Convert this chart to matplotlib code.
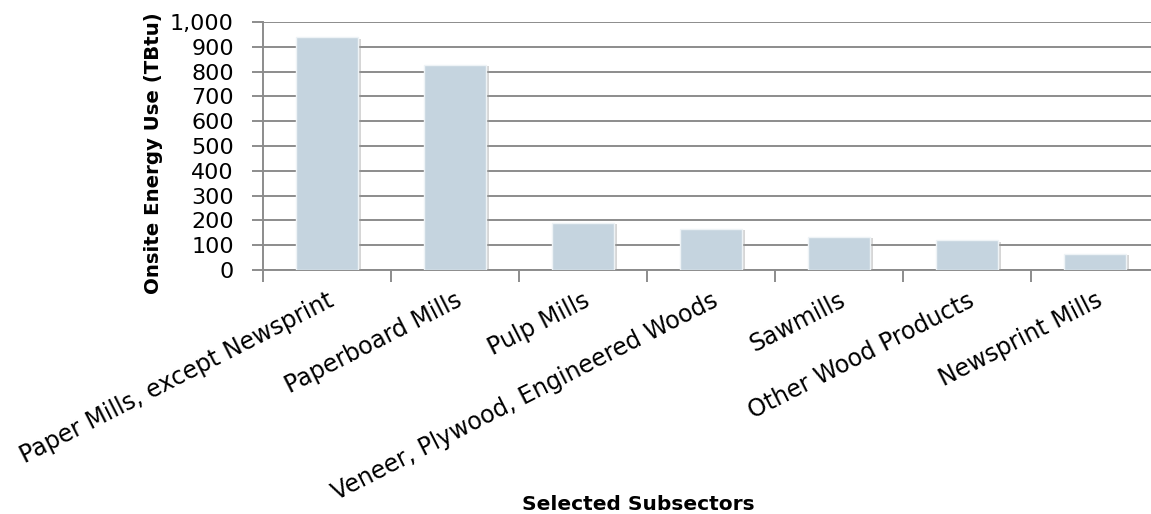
import matplotlib
matplotlib.use("Agg")
import matplotlib.pyplot as plt
import matplotlib.patheffects as pe
import numpy as np

# data
subsectors = ["Paper Mills, except Newsprint", "Paperboard Mills", "Pulp Mills",
              "Veneer, Plywood, Engineered Woods", "Sawmills",
              "Other Wood Products", "Newsprint Mills"]
energy_use = [939, 828, 190, 166, 134, 120, 65]
yticks = np.arange(0, 1001, 100)

plt.rcParams['font.family'] = ['DejaVu Sans']
grid_col = "#8C8C8C"

fig = plt.figure(figsize=(11.51, 5.14), dpi=100)
# plot area runs a little past the right edge of the image, as in the reference
ax = fig.add_axes([263 / 1151, 1 - 270 / 514, (1159 - 263) / 1151, (270 - 22) / 514])

x = np.arange(len(subsectors))
bars = ax.bar(x, energy_use, width=0.49, color="#C5D4DF", edgecolor="#EEF3F6",
              linewidth=1, zorder=3)
for b in bars:
    b.set_path_effects([pe.SimplePatchShadow(offset=(2, -1), shadow_rgbFace="#999999", alpha=0.4),
                        pe.Normal()])

ax.set_xlim(-0.5, len(subsectors) - 0.5)
ax.set_ylim(0, 1000)
ax.set_yticks(yticks)
ax.set_yticklabels([f"{v:,}" for v in yticks], fontsize=16)
ax.yaxis.grid(True, color=grid_col, linewidth=1.4, zorder=0)
ax.set_axisbelow(True)

# ticks at category boundaries, labels at category centres
ax.set_xticks(np.arange(len(subsectors) + 1) - 0.5)
ax.set_xticklabels([])
ax.set_xticks(x, minor=True)
ax.set_xticklabels(subsectors, minor=True, rotation=27, ha="right", va="top",
                   rotation_mode="anchor", fontsize=17)
ax.tick_params(axis="x", which="major", length=8.5, color=grid_col, width=1.4)
ax.tick_params(axis="x", which="minor", length=0, pad=13)
ax.tick_params(axis="y", length=8, color=grid_col, width=1.4, pad=13)

for s in ["top", "right"]:
    ax.spines[s].set_visible(False)
for s in ["left", "bottom"]:
    ax.spines[s].set_color(grid_col)
    ax.spines[s].set_linewidth(1.4)

ax.set_ylabel("Onsite Energy Use (TBtu)", fontsize=14.2, fontweight="bold")
ax.yaxis.set_label_coords(-0.112, 0.472)
fig.text(638 / 1151, 1 - 505 / 514, "Selected Subsectors", fontsize=14.5,
         fontweight="bold", ha="center", va="center")

fig.savefig("out.png", dpi=100)
